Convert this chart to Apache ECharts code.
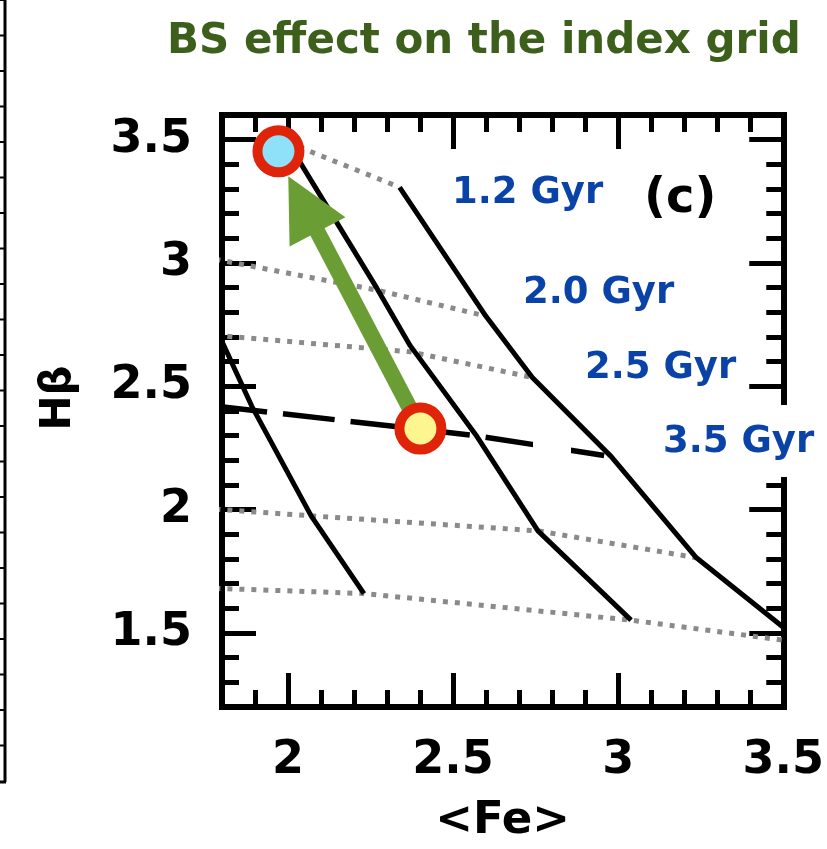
<!DOCTYPE html>
<html>
<head>
<meta charset="utf-8">
<script src="https://cdn.jsdelivr.net/npm/echarts@6/dist/echarts.min.js"></script>
<style>html,body{margin:0;padding:0;background:#fff;overflow:hidden;}#c{width:827px;height:849px;}</style>
</head>
<body>
<div id="c"></div>
<script>
// ---- axis ranges and tick labels ----
const xRange = [1.8, 3.5];
const yRange = [1.2, 3.6];
const xMajorTicks = [2, 2.5, 3, 3.5];
const yMajorTicks = [1.5, 2, 2.5, 3, 3.5];

// ---- model grid: solid lines (constant metallicity) ----
const solid1 = [[1.78, 2.74], [1.89, 2.42], [2.07, 1.975], [2.23, 1.66]];
const solid2 = [[2.0, 3.488], [2.269, 2.898], [2.37, 2.665], [2.569, 2.303], [2.757, 1.914], [3.039, 1.552]];
const solid3 = [[2.338, 3.307], [2.599, 2.785], [2.74, 2.536], [2.979, 2.215], [3.237, 1.805], [3.55, 1.47]];

// ---- dotted lines (constant age) ----
const dot1 = [[2.0, 3.488], [2.338, 3.307]];
const dot2 = [[1.78, 3.015], [2.269, 2.89], [2.599, 2.785]];
const dot3 = [[1.78, 2.707], [2.37, 2.64], [2.74, 2.536]];
const dot4 = [[1.78, 2.002], [2.07, 1.975], [2.757, 1.914], [3.237, 1.805]];
const dot5 = [[1.78, 1.681], [2.23, 1.66], [3.039, 1.552], [3.55, 1.462]];

// ---- dashed line ----
const dashed = [[1.78, 2.42], [2.569, 2.30], [2.979, 2.215]];

// ---- points and arrow ----
const pointBlue = [1.971, 3.453];
const pointYellow = [2.401, 2.329];
const arrowEnd = [2.045, 3.239];

// ---- annotation texts ----
const titleText = 'BS effect on the index grid';
const ageLabels = ['1.2 Gyr', '2.0 Gyr', '2.5 Gyr', '3.5 Gyr'];
const panelLabel = '(c)';

const chart = echarts.init(document.getElementById('c'), null, {renderer: 'canvas'});

const tickFont = {fontFamily: 'DejaVu Sans', fontWeight: 'bold', fontSize: 46, color: '#000'};
const lineCol = '#000';

function minorAxis(pos, isX) {
  return {
    type: 'value', position: pos, min: isX ? xRange[0] : yRange[0], max: isX ? xRange[1] : yRange[1],
    interval: 0.1,
    axisLine: {show: true, onZero: false, lineStyle: {color: lineCol, width: 6, cap: 'square'}},
    axisTick: {show: true, inside: true, length: 17, lineStyle: {color: lineCol, width: 5}},
    axisLabel: {show: false}, splitLine: {show: false}
  };
}
function majorAxis(pos, isX, withLabels) {
  const vals = isX ? xMajorTicks : yMajorTicks;
  return {
    type: 'value', position: pos, min: isX ? xRange[0] : yRange[0], max: isX ? xRange[1] : yRange[1],
    axisLine: {show: false, onZero: false},
    axisTick: {show: true, inside: true, length: 34, customValues: vals, lineStyle: {color: lineCol, width: 5}},
    axisLabel: withLabels ? Object.assign({show: true, customValues: vals, margin: isX ? 31 : 30}, tickFont) : {show: false},
    splitLine: {show: false}
  };
}

const xAxes = [minorAxis('bottom', true), majorAxis('bottom', true, true), minorAxis('top', true), majorAxis('top', true, false)];
xAxes[1].name = '<Fe>';
xAxes[1].nameLocation = 'middle';
xAxes[1].nameGap = 92;
xAxes[1].nameTextStyle = {fontFamily: 'DejaVu Sans', fontWeight: 'bold', fontSize: 45, color: '#000'};

const yAxes = [minorAxis('left', false), majorAxis('left', false, true), minorAxis('right', false), majorAxis('right', false, false)];
yAxes[1].name = 'Hβ';
yAxes[1].nameLocation = 'middle';
yAxes[1].nameGap = 142;
yAxes[1].nameTextStyle = {fontFamily: 'DejaVu Sans', fontWeight: 'bold', fontSize: 42, color: '#000', padding: [0, 0, 0, 26]};

function lineSeries(data, style) {
  return {type: 'line', data: data, symbol: 'none', smooth: false, z: 2, clip: true,
    lineStyle: Object.assign({join: 'round'}, style), silent: true, animation: false};
}
const solidStyle = {color: '#000', width: 5};
const dotStyle = {color: '#8a8a8a', width: 5, type: [5, 7]};
const dashStyle = {color: '#000', width: 5.5, type: [52, 16]};

const series = [
  lineSeries(dot1, dotStyle), lineSeries(dot2, dotStyle), lineSeries(dot3, dotStyle),
  lineSeries(dot4, dotStyle), lineSeries(dot5, dotStyle),
  lineSeries(dashed, dashStyle),
  lineSeries(solid1, solidStyle), lineSeries(solid2, solidStyle), lineSeries(solid3, solidStyle),
  {
    type: 'lines', coordinateSystem: 'cartesian2d', xAxisIndex: 0, yAxisIndex: 0, z: 4,
    symbol: ['none', 'triangle'], symbolSize: 63, animation: false,
    lineStyle: {color: '#6a9e34', width: 16, opacity: 1, curveness: 0},
    itemStyle: {color: '#6a9e34'},
    data: [{coords: [pointYellow, arrowEnd]}]
  },
  {
    type: 'scatter', z: 5, symbol: 'circle', symbolSize: 42, animation: false,
    data: [
      {value: pointBlue, itemStyle: {color: '#8fe0f9', borderColor: '#e0240a', borderWidth: 10, opacity: 1}},
      {value: pointYellow, itemStyle: {color: '#fdf590', borderColor: '#e0240a', borderWidth: 10, opacity: 1}}
    ]
  }
];

const blue = '#0a43a8';
const labFont = 'bold 37px "DejaVu Sans"';
const ageLabelPos = [[452, 193], [523, 293], [585, 368], [663, 442]];

const graphic = [
  // leftover frame of the neighbouring panel on the left edge
  {type: 'line', z: 100, shape: {x1: 5, y1: 0, x2: 5, y2: 782}, style: {stroke: '#000', lineWidth: 3}},
  {type: 'line', z: 100, shape: {x1: 0, y1: 782, x2: 6, y2: 782}, style: {stroke: '#000', lineWidth: 3}},
  // white patches present in the original figure
  {type: 'rect', z: 100, shape: {x: 533, y: 420, width: 38, height: 70}, style: {fill: '#fff'}},
  {type: 'rect', z: 100, shape: {x: 657, y: 405, width: 170, height: 72}, style: {fill: '#fff'}},
  {type: 'text', z: 101, x: 644, y: 200, style: {text: panelLabel, font: 'bold 48px "DejaVu Sans"', fill: '#000', verticalAlign: 'middle'}}
];
for (let k = 0; k < 22; k++) {
  graphic.push({type: 'line', z: 100, shape: {x1: 0, y1: k * 35.5, x2: 5, y2: k * 35.5}, style: {stroke: '#000', lineWidth: 2}});
}
ageLabels.forEach(function (t, i) {
  graphic.push({type: 'text', z: 101, x: ageLabelPos[i][0], y: ageLabelPos[i][1],
    style: {text: t, font: labFont, fill: blue, verticalAlign: 'middle', align: 'left'}});
});

chart.setOption({
  animation: false,
  backgroundColor: '#fff',
  title: {text: titleText, left: 162, top: 16,
    textStyle: {fontFamily: 'DejaVu Sans', fontWeight: 'bold', fontSize: 42, color: '#3d5f1c'}},
  grid: {left: 222, right: 36, top: 115, bottom: 136, containLabel: false},
  xAxis: xAxes,
  yAxis: yAxes,
  series: series,
  graphic: graphic
});
</script>
</body>
</html>
